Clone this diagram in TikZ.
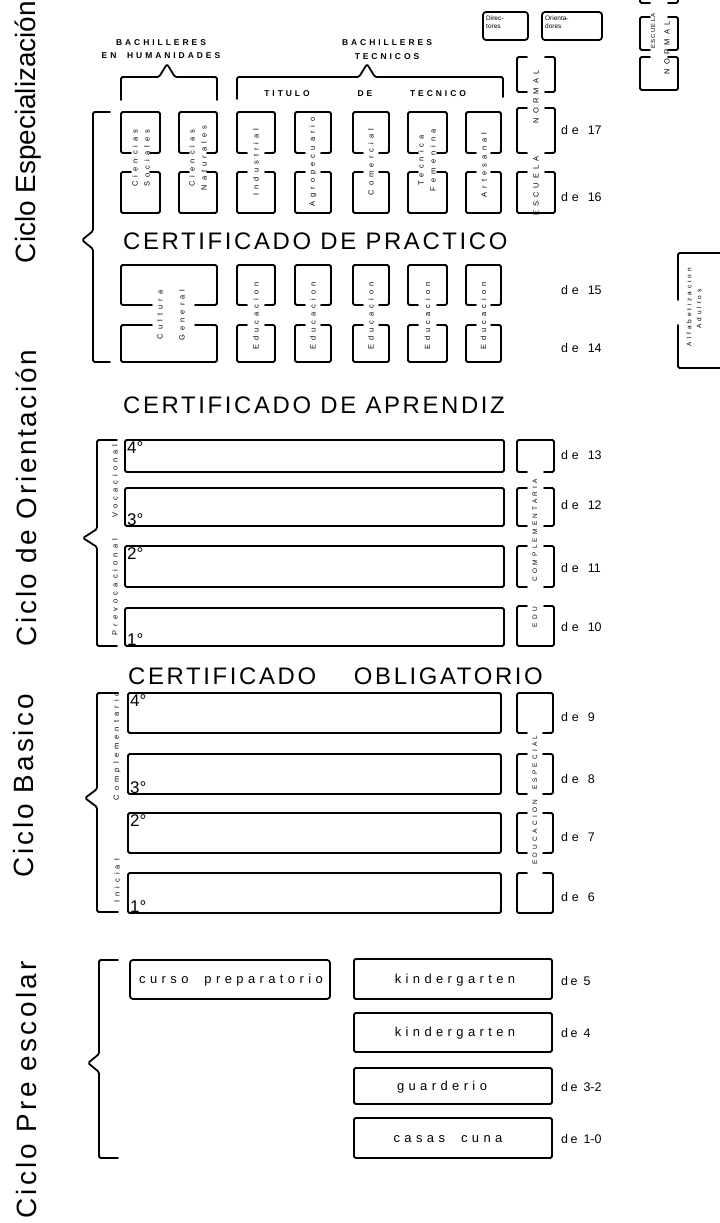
\documentclass[tikz,border=0pt]{standalone}
\usepackage{fontspec}
\setmainfont{Liberation Sans}
\newcommand\lsp[2]{{\addfontfeatures{LetterSpace=#1}#2}}
% open-bottom box, open-top box, open top and bottom (x1,x2,y1,y2)
\newcommand\boxOB[4]{\draw[ln] ({#1+10},#4) -- (#1,#4) -- (#1,#3) -- (#2,#3) -- (#2,#4) -- ({#2-10},#4);}
\newcommand\boxOT[4]{\draw[ln] ({#1+10},#3) -- (#1,#3) -- (#1,#4) -- (#2,#4) -- (#2,#3) -- ({#2-10},#3);}
\newcommand\boxOTB[4]{\draw[ln] ({#1+10},#3) -- (#1,#3) -- (#1,#4) -- ({#1+10},#4); \draw[ln] ({#2-10},#3) -- (#2,#3) -- (#2,#4) -- ({#2-10},#4);}
% x, xend, tipx, top, bottom, tipy
\newcommand\cyclebrace[6]{\draw[ln] (#2,#4) -- (#1,#4) -- (#1,{#6-9}) -- (#3,#6) -- (#1,{#6+9}) -- (#1,#5) -- (#2,#5);}
\begin{document}
\begin{tikzpicture}[x=1bp,y=-1bp,
  ln/.style={line width=1.8bp, rounded corners=1.5bp, line cap=round, line join=round},
  vtext/.style={rotate=90, font=\fontsize{7.5}{12}\selectfont\addfontfeatures{LetterSpace=55}, inner sep=0pt, align=center},
  captext/.style={font=\fontsize{8.5}{10}\bfseries\selectfont\addfontfeatures{LetterSpace=35}, inner sep=0pt, align=center},
  certtext/.style={font=\fontsize{24}{28}\selectfont\addfontfeatures{LetterSpace=11}, inner sep=0pt},
  agetext/.style={font=\fontsize{12.5}{14}\selectfont, inner sep=0pt, anchor=west},
  ordtext/.style={font=\fontsize{17}{18}\selectfont, inner sep=1pt},
  cyctitle/.style={rotate=90, anchor=base, font=\fontsize{28}{30}\selectfont, inner sep=0pt},
  pretext/.style={font=\fontsize{13}{15}\selectfont\addfontfeatures{LetterSpace=34}, inner sep=0pt},
  smalltext/.style={font=\fontsize{6.5}{8}\selectfont, inner sep=0pt, align=left}
]
\useasboundingbox (0,0) rectangle (720,1223);

% ---------- cycle titles ----------
\node[cyctitle] (t1) at (35,132) {Ciclo Especialización};
\node[cyctitle] (t2) at (36,498) {\lsp{9.5}{Ciclo de Orientación}};
\node[cyctitle] (t3) at (33,786) {\lsp{10.7}{Ciclo Basico}};
\node[cyctitle] (t4) at (36,1090) {\lsp{12}{Ciclo Pre escolar}};

% ---------- braces ----------
\cyclebrace{93}{110}{82}{112}{362}{240}
\cyclebrace{97}{117}{83}{440}{646}{538}
\cyclebrace{97}{118}{85}{693}{912}{798}
\cyclebrace{99}{118}{88}{960}{1158}{1063}

% ---------- Especializacion ----------
\node[captext] (bh1) at (161,43) {BACHILLERES};
\node[captext] (bh2) at (161,56) {EN\ \ HUMANIDADES};
\node[captext] (bt1) at (387,43) {BACHILLERES};
\node[captext] (bt2) at (387,57) {TECNICOS};
\draw[ln] (121,100) -- (121,77) -- (159,77) -- (167,64) -- (175,77) -- (217,77) -- (217,100);
\draw[ln] (237,99) -- (237,77) -- (359,77) -- (367,64) -- (375,77) -- (503,77) -- (503,97);
\node[captext] (tit1) at (287,94) {TITULO};
\node[captext] (tit2) at (365,94) {DE};
\node[captext] (tit3) at (438,94) {TECNICO};

\foreach \a/\b in {121/160,179/217,237/275,295/331,353/389,408/447,466/501}{
  \boxOB{\a}{\b}{112}{153}
  \boxOT{\a}{\b}{172}{213}
}
\node[vtext] (cs) at (141,158) {Ciencias\\Sociales};
\node[vtext] (cn) at (198,158) {Ciencias\\Naturales};
\node[vtext] (ind) at (256,162) {Industrial};
\node[vtext] (agr) at (313,162) {Agropecuario};
\node[vtext] (com) at (371,162) {Comercial};
\node[vtext] (tf) at (427,160) {Tecnica\\Femenina};
\node[vtext] (art) at (484,165) {Artesanal};

\boxOTB{517}{555}{57}{92}
\boxOTB{517}{555}{108}{153}
\boxOT{517}{555}{172}{213}
\node[vtext] (nor) at (536,97) {NORMAL};
\node[vtext] (esc) at (536,186) {ESCUELA};

\draw[ln, rounded corners=3bp] (483,12) rectangle (528,40);
\node[smalltext, anchor=north west] (dir) at (486,16) {Direc-\\tores};
\draw[ln, rounded corners=3bp] (542,12) rectangle (602,40);
\node[smalltext, anchor=north west] (ori) at (545,16) {Orienta-\\dores};

\draw[ln] (640,-6) -- (640,3) -- (650,3);
\draw[ln] (668,3) -- (678,3) -- (678,-6);
\boxOTB{640}{678}{17}{50}
\boxOT{640}{678}{57}{90}
\node[vtext, font=\fontsize{6}{7}\selectfont\addfontfeatures{LetterSpace=20}] (isn) at (653,31) {ESCUELA};
\node[vtext] (isn2) at (667,48) {NORMAL};

\node[agetext] (a17) at (561,130) {\lsp{30}{de}\hspace{9bp}17};
\node[agetext] (a16) at (561,197) {\lsp{30}{de}\hspace{9bp}16};

\node[certtext, anchor=base west] (c1) at (123,249) {CERTIFICADO DE PRACTICO};

\draw[ln] (152,305) -- (121,305) -- (121,265) -- (217,265) -- (217,305) -- (195,305);
\draw[ln] (152,325) -- (121,325) -- (121,362) -- (217,362) -- (217,325) -- (195,325);
\node[vtext] (cul) at (160,315) {Cultura};
\node[vtext] (gen) at (182,315) {General};
\foreach \a/\b in {237/275,295/331,353/389,408/447,466/501}{
  \boxOB{\a}{\b}{265}{305}
  \boxOT{\a}{\b}{325}{362}
  \node[vtext] at ({(\a+\b)/2},316) {Educacion};
}
\node[agetext] (a15) at (561,290) {\lsp{30}{de}\hspace{9bp}15};
\node[agetext] (a14) at (561,348) {\lsp{30}{de}\hspace{9bp}14};

\draw[ln] (720,253) -- (678,253) -- (678,300);
\draw[ln] (678,325) -- (678,368) -- (720,368);
\node[vtext, font=\fontsize{6.5}{8}\selectfont\addfontfeatures{LetterSpace=45}] (alf) at (689,307) {Alfabetizacion};
\node[vtext, font=\fontsize{6.5}{8}\selectfont\addfontfeatures{LetterSpace=45}] (adu) at (699,309) {Adultos};

\node[certtext, anchor=base west] (c2) at (123,413) {CERTIFICADO DE APRENDIZ};

% ---------- Orientacion ----------
\draw[ln] (125,440) rectangle (504,472);
\draw[ln] (125,488) rectangle (504,526);
\draw[ln] (125,546) rectangle (504,587);
\draw[ln] (125,608) rectangle (504,646);
\node[ordtext, anchor=north west] (o4) at (126,440) {4°};
\node[ordtext, anchor=south west] (o3) at (126,527) {3°};
\node[ordtext, anchor=north west] (o2) at (126,546) {2°};
\node[ordtext, anchor=south west] (o1) at (126,647) {1°};
\node[vtext] (voc) at (115,481) {Vocacional};
\node[vtext] (pvoc) at (115,587) {Prevocacional};
\boxOB{517}{554}{440}{472}
\boxOTB{517}{554}{488}{526}
\boxOTB{517}{554}{546}{587}
\boxOT{517}{554}{606}{646}
\node[vtext, font=\fontsize{6.5}{8}\selectfont\addfontfeatures{LetterSpace=50}] (cpl) at (535,530) {COMPLEMENTARIA};
\node[vtext, font=\fontsize{6.5}{8}\selectfont\addfontfeatures{LetterSpace=50}] (edu) at (535,617) {EDU};
\node[agetext] (a13) at (561,455) {\lsp{30}{de}\hspace{9bp}13};
\node[agetext] (a12) at (561,505) {\lsp{30}{de}\hspace{9bp}12};
\node[agetext] (a11) at (561,568) {\lsp{30}{de}\hspace{9bp}11};
\node[agetext] (a10) at (561,627) {\lsp{30}{de}\hspace{9bp}10};

\node[certtext, anchor=base west] (c3a) at (128,684) {CERTIFICADO};
\node[certtext, anchor=base east] (c3b) at (543,684) {OBLIGATORIO};

% ---------- Basico ----------
\draw[ln] (128,693) rectangle (501,733);
\draw[ln] (128,754) rectangle (501,794);
\draw[ln] (128,813) rectangle (501,853);
\draw[ln] (128,873) rectangle (501,913);
\node[ordtext, anchor=north west] (b4) at (129,693) {4°};
\node[ordtext, anchor=south west] (b3) at (129,795) {3°};
\node[ordtext, anchor=north west] (b2) at (129,813) {2°};
\node[ordtext, anchor=south west] (b1) at (129,914) {1°};
\node[vtext] (cmp) at (117,746) {Complementario};
\node[vtext] (ini) at (117,881) {Inicial};
\boxOB{517}{553}{693}{733}
\boxOTB{517}{553}{754}{794}
\boxOTB{517}{553}{813}{853}
\boxOT{517}{553}{873}{913}
\node[vtext, font=\fontsize{6.5}{8}\selectfont\addfontfeatures{LetterSpace=50}] (esp) at (535,800) {EDUCACION\ \ ESPECIAL};
\node[agetext] (a9) at (561,717) {\lsp{30}{de}\hspace{9bp}9};
\node[agetext] (a8) at (561,779) {\lsp{30}{de}\hspace{9bp}8};
\node[agetext] (a7) at (561,837) {\lsp{30}{de}\hspace{9bp}7};
\node[agetext] (a6) at (561,897) {\lsp{30}{de}\hspace{9bp}6};

% ---------- Pre escolar ----------
\draw[ln, rounded corners=3bp] (130,960) rectangle (330,999);
\node[pretext] (cp) at (231,980) {curso\ \ preparatorio};
\draw[ln] (354,959) rectangle (552,999);
\draw[ln] (354,1013) rectangle (552,1052);
\draw[ln] (354,1068) rectangle (552,1104);
\draw[ln] (354,1118) rectangle (552,1158);
\node[pretext] (k5) at (455,980) {kindergarten};
\node[pretext] (k4) at (455,1033) {kindergarten};
\node[pretext] (gu) at (442,1087) {guarderio};
\node[pretext] (cc) at (448,1139) {casas\ \ cuna};
\node[agetext] (p5) at (561,981) {\lsp{20}{de}\hspace{6bp}5};
\node[agetext] (p4) at (561,1033) {\lsp{20}{de}\hspace{6bp}4};
\node[agetext] (p3) at (561,1087) {\lsp{20}{de}\hspace{6bp}3-2};
\node[agetext] (p1) at (561,1139) {\lsp{20}{de}\hspace{6bp}1-0};
\end{tikzpicture}
\end{document}
